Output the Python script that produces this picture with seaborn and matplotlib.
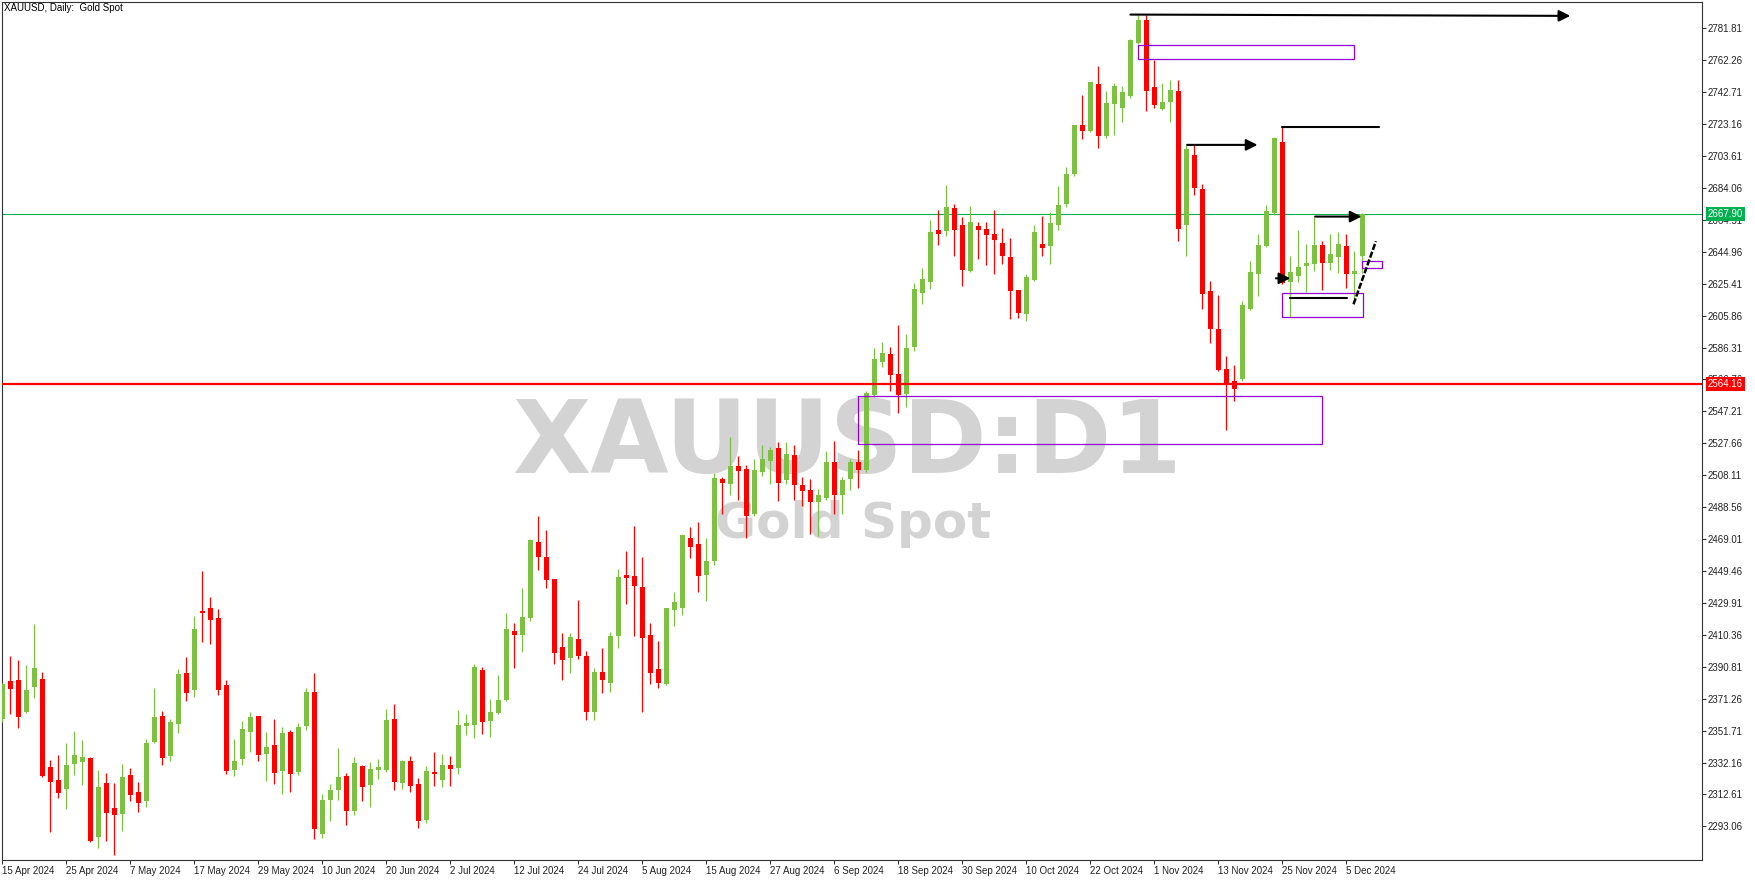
import numpy as np
import pandas as pd
import matplotlib
matplotlib.use("Agg")
import matplotlib.pyplot as plt
import matplotlib.transforms as mtransforms
from matplotlib.patches import Rectangle
import seaborn as sns

# daily candles, 15 Apr 2024 -> 9 Dec 2024
opens = [
    2359.0, 2382.1, 2382.7, 2363.3, 2378.6, 2383.3, 2329.4, 2321.5, 2316.2, 2331.5,
    2332.7, 2335.0, 2286.8, 2319.7, 2304.3, 2300.9, 2324.6, 2314.1, 2308.8, 2344.8,
    2360.7, 2336.4, 2356.0, 2387.0, 2376.8, 2425.0, 2426.8, 2420.7, 2379.6, 2327.8,
    2334.5, 2351.1, 2360.7, 2337.6, 2342.9, 2327.2, 2350.9, 2326.6, 2354.7, 2375.4,
    2288.6, 2309.4, 2315.6, 2323.9, 2302.8, 2330.1, 2318.7, 2327.8, 2327.8, 2358.9,
    2319.9, 2333.2, 2319.1, 2297.2, 2326.4, 2321.7, 2330.7, 2329.1, 2354.6, 2355.2,
    2388.9, 2357.6, 2362.5, 2370.5, 2412.7, 2410.3, 2420.7, 2467.2, 2458.0, 2444.6,
    2402.9, 2396.4, 2407.8, 2397.4, 2363.3, 2387.6, 2381.1, 2409.7, 2447.0, 2446.4,
    2439.7, 2410.3, 2389.5, 2380.5, 2425.6, 2426.8, 2469.7, 2466.0, 2447.0, 2455.6,
    2505.8, 2502.8, 2513.8, 2512.0, 2484.4, 2510.1, 2516.9, 2524.8, 2505.2, 2520.5,
    2502.2, 2499.1, 2491.8, 2494.2, 2516.3, 2496.1, 2505.8, 2516.3, 2511.4, 2557.3,
    2577.5, 2582.4, 2570.1, 2558.1, 2586.6, 2619.7, 2626.4, 2658.3, 2657.7, 2671.8,
    2661.4, 2633.2, 2660.7, 2658.9, 2655.8, 2650.3, 2641.8, 2621.6, 2606.9, 2627.7,
    2649.7, 2648.5, 2661.3, 2674.2, 2692.6, 2722.6, 2718.9, 2747.7, 2715.8, 2735.4,
    2733.0, 2740.3, 2772.8, 2786.9, 2745.8, 2732.4, 2736.7, 2743.4, 2661.3, 2704.2,
    2683.4, 2620.9, 2597.7, 2573.2, 2565.8, 2567.0, 2609.9, 2631.3, 2648.5, 2668.7,
    2712.1, 2626.4, 2630.1, 2636.2, 2637.4, 2649.1, 2638.1, 2641.7, 2648.5, 2631.3,
    2642.3,
]
highs = [
    2381.0, 2397.4, 2395.0, 2391.9, 2417.0, 2387.6, 2333.7, 2336.8, 2343.9, 2351.5,
    2346.0, 2335.6, 2327.6, 2325.8, 2319.7, 2331.3, 2328.8, 2320.3, 2346.6, 2377.8,
    2363.7, 2358.8, 2389.5, 2396.8, 2421.9, 2449.4, 2433.5, 2426.2, 2382.7, 2346.6,
    2357.6, 2363.1, 2360.7, 2350.9, 2358.8, 2353.9, 2352.1, 2356.4, 2377.8, 2387.0,
    2312.9, 2319.0, 2341.1, 2325.8, 2335.6, 2330.7, 2332.5, 2334.4, 2365.0, 2368.1,
    2333.8, 2336.2, 2322.8, 2330.1, 2338.7, 2337.4, 2336.2, 2364.4, 2361.9, 2392.5,
    2390.7, 2371.1, 2385.8, 2423.8, 2417.6, 2439.1, 2469.0, 2483.1, 2474.6, 2444.6,
    2411.5, 2411.5, 2431.7, 2400.5, 2390.1, 2402.3, 2412.1, 2450.7, 2461.7, 2477.0,
    2458.0, 2417.6, 2406.6, 2427.0, 2436.6, 2471.5, 2476.4, 2479.5, 2469.7, 2509.5,
    2507.0, 2531.6, 2519.9, 2514.4, 2518.1, 2526.7, 2525.4, 2528.5, 2528.5, 2526.7,
    2507.0, 2505.8, 2499.7, 2523.0, 2529.1, 2507.0, 2518.1, 2523.6, 2559.7, 2586.1,
    2589.7, 2586.7, 2600.1, 2594.6, 2625.8, 2635.0, 2664.4, 2670.5, 2685.8, 2674.2,
    2666.3, 2673.0, 2663.2, 2663.2, 2670.5, 2659.5, 2653.4, 2621.6, 2631.3, 2661.4,
    2666.9, 2669.3, 2685.2, 2696.9, 2722.6, 2740.9, 2749.0, 2758.7, 2743.4, 2748.3,
    2746.4, 2775.2, 2789.9, 2789.9, 2762.4, 2748.3, 2750.1, 2750.1, 2710.3, 2710.3,
    2686.4, 2627.1, 2618.5, 2581.1, 2575.6, 2614.8, 2639.3, 2655.8, 2673.6, 2715.2,
    2721.3, 2642.3, 2658.3, 2649.7, 2666.2, 2651.5, 2655.8, 2657.0, 2655.8, 2645.4,
    2668.7,
]
lows = [
    2357.0, 2362.1, 2353.5, 2362.7, 2371.9, 2323.5, 2289.9, 2310.7, 2303.9, 2324.8,
    2318.6, 2283.7, 2280.1, 2284.3, 2275.8, 2290.5, 2308.6, 2302.1, 2305.2, 2344.1,
    2330.9, 2333.3, 2350.5, 2370.1, 2372.5, 2406.2, 2405.0, 2373.5, 2325.4, 2324.1,
    2330.9, 2338.8, 2333.3, 2321.1, 2319.2, 2313.1, 2314.3, 2324.7, 2352.3, 2285.6,
    2286.2, 2296.6, 2309.4, 2294.1, 2300.3, 2308.9, 2305.2, 2322.3, 2326.6, 2315.6,
    2316.2, 2314.4, 2292.3, 2295.4, 2318.0, 2317.4, 2318.0, 2325.4, 2349.1, 2347.2,
    2349.7, 2347.8, 2361.9, 2369.9, 2390.1, 2399.9, 2418.8, 2450.1, 2439.0, 2392.7,
    2382.9, 2387.2, 2395.8, 2358.4, 2358.4, 2375.0, 2375.6, 2402.5, 2429.5, 2409.9,
    2363.3, 2380.5, 2378.0, 2379.9, 2415.8, 2422.5, 2457.4, 2436.6, 2431.1, 2453.0,
    2484.4, 2496.0, 2493.0, 2469.7, 2483.2, 2507.7, 2502.8, 2492.4, 2502.8, 2493.0,
    2489.3, 2472.2, 2471.0, 2493.0, 2484.4, 2484.4, 2499.1, 2500.3, 2510.1, 2556.1,
    2574.4, 2559.9, 2546.0, 2550.1, 2584.2, 2613.0, 2622.1, 2649.1, 2654.6, 2642.4,
    2624.0, 2632.6, 2640.5, 2636.8, 2631.3, 2637.5, 2603.8, 2604.4, 2602.6, 2627.1,
    2642.4, 2637.5, 2658.3, 2672.4, 2691.3, 2714.0, 2718.3, 2708.5, 2714.6, 2716.4,
    2724.4, 2739.1, 2772.2, 2731.1, 2733.0, 2731.8, 2724.4, 2651.5, 2642.4, 2679.7,
    2609.9, 2589.1, 2572.0, 2535.8, 2553.6, 2566.0, 2609.3, 2617.9, 2648.0, 2667.4,
    2625.0, 2605.0, 2626.4, 2620.3, 2633.2, 2621.5, 2633.8, 2631.9, 2622.8, 2614.8,
    2632.0,
]
closes = [
    2380.3, 2377.4, 2360.3, 2376.6, 2390.1, 2324.1, 2320.5, 2313.7, 2330.7, 2336.8,
    2335.6, 2284.3, 2317.2, 2301.5, 2300.3, 2323.3, 2312.5, 2307.6, 2344.1, 2360.1,
    2335.2, 2357.0, 2386.4, 2375.0, 2413.9, 2423.9, 2419.6, 2376.8, 2327.2, 2333.1,
    2352.7, 2360.1, 2337.0, 2341.7, 2326.0, 2350.3, 2325.4, 2353.9, 2375.4, 2291.7,
    2309.2, 2315.4, 2323.3, 2302.7, 2331.9, 2317.5, 2328.3, 2329.5, 2358.3, 2320.5,
    2333.2, 2318.0, 2296.6, 2327.0, 2325.2, 2330.7, 2328.4, 2355.2, 2356.4, 2390.7,
    2357.0, 2363.1, 2370.5, 2414.0, 2410.3, 2421.3, 2468.4, 2458.2, 2443.9, 2399.5,
    2395.2, 2409.0, 2397.6, 2363.3, 2387.6, 2382.7, 2409.7, 2445.8, 2445.2, 2440.5,
    2408.6, 2387.2, 2381.1, 2426.8, 2430.5, 2471.5, 2464.1, 2446.4, 2455.6, 2506.4,
    2503.4, 2513.8, 2510.7, 2483.2, 2511.4, 2518.1, 2523.6, 2503.4, 2521.2, 2502.2,
    2498.5, 2491.8, 2496.1, 2516.3, 2496.1, 2505.2, 2516.3, 2511.4, 2558.5, 2579.3,
    2583.0, 2569.7, 2557.4, 2586.0, 2622.1, 2628.3, 2657.0, 2655.8, 2672.3, 2658.3,
    2633.8, 2663.2, 2658.3, 2655.2, 2652.1, 2642.4, 2621.0, 2607.5, 2629.5, 2657.0,
    2647.3, 2662.6, 2673.6, 2692.6, 2722.6, 2718.9, 2748.9, 2715.8, 2736.0, 2746.4,
    2742.8, 2774.6, 2786.9, 2743.4, 2734.8, 2736.7, 2744.0, 2658.9, 2707.9, 2684.0,
    2619.1, 2597.7, 2572.6, 2564.4, 2560.9, 2612.3, 2632.5, 2649.1, 2669.9, 2714.6,
    2625.6, 2632.5, 2635.6, 2638.1, 2649.1, 2638.1, 2643.6, 2649.7, 2631.3, 2633.2,
    2667.9,
]

date_labels = [
    "15 Apr 2024", "25 Apr 2024", "7 May 2024", "17 May 2024", "29 May 2024",
    "10 Jun 2024", "20 Jun 2024", "2 Jul 2024", "12 Jul 2024", "24 Jul 2024",
    "5 Aug 2024", "15 Aug 2024", "27 Aug 2024", "6 Sep 2024", "18 Sep 2024",
    "30 Sep 2024", "10 Oct 2024", "22 Oct 2024", "1 Nov 2024", "13 Nov 2024",
    "25 Nov 2024", "5 Dec 2024",
]
date_label_bars = [0, 8, 16, 24, 32, 40, 48, 56, 64, 72, 80, 88, 96, 104, 112,
                   120, 128, 136, 144, 152, 160, 168]

price_ticks = [
    2293.06, 2312.61, 2332.16, 2351.71, 2371.26, 2390.81, 2410.36, 2429.91,
    2449.46, 2469.01, 2488.56, 2508.11, 2527.66, 2547.21, 2566.76, 2586.31,
    2605.86, 2625.41, 2644.96, 2664.51, 2684.06, 2703.61, 2723.16, 2742.71,
    2762.26, 2781.81,
]

bid_price = 2667.90
level_price = 2564.16

# drawn objects (bar index, price)
arrows = [
    ((141.0, 2790.2), (196.0, 2789.4)),
    ((148.1, 2710.4), (156.9, 2710.4)),
    ((164.1, 2666.5), (169.9, 2666.5)),
    ((159.2, 2628.7), (161.0, 2628.7)),
]
plain_lines = [
    ((160.0, 2721.6), (172.1, 2721.6)),
    ((161.0, 2616.9), (168.1, 2616.9)),
]
dashed_line = ((168.9, 2612.8), (171.7, 2651.4))
boxes = [  # x0, x1, y0, y1
    (142.0, 169.0, 2762.8, 2771.4),
    (107.0, 165.0, 2527.3, 2556.5),
    (160.0, 170.05, 2604.8, 2619.5),
    (170.0, 172.5, 2634.8, 2639.1),
]

UP = "#7dc142"
DOWN = "#ff0000"
PURPLE = "#9400d3"
GREEN_LINE = "#00b050"
FRAME = "#333333"

sns.set_theme(style="white")
plt.rcParams["font.family"] = ["Liberation Sans", "DejaVu Sans"]

df = pd.DataFrame({"open": opens, "high": highs, "low": lows, "close": closes})
df["bar"] = np.arange(len(df))
df["up"] = df["close"] >= df["open"]

W, H = 1755, 881
fig = plt.figure(figsize=(W / 100, H / 100), dpi=100, facecolor="white")
ax = fig.add_axes([2 / W, 21 / H, 1700 / W, 858 / H])
ax.set_facecolor("white")

# watermark
ax.text(847 / W, 1 - 473 / H, "XAUUSD:D1", transform=fig.transFigure,
        ha="center", va="baseline", fontsize=73, fontweight="bold",
        family="DejaVu Sans", color="#d3d3d3", zorder=0.5)
ax.text(853 / W, 1 - 538 / H, "Gold Spot", transform=fig.transFigure,
        ha="center", va="baseline", fontsize=36, fontweight="bold",
        family="DejaVu Sans", color="#d3d3d3", zorder=0.5)

# candles
for up, color in [(True, UP), (False, DOWN)]:
    d = df[df["up"] == up]
    ax.vlines(d["bar"], d["low"], d["high"], color=color, lw=0.9, zorder=3)
    body = (d["close"] - d["open"]).abs().clip(lower=1.0)
    bottom = d[["open", "close"]].min(axis=1)
    ax.bar(d["bar"], body, bottom=bottom, width=0.62, color=color,
           linewidth=0, zorder=4)

# price levels
ax.axhline(bid_price, color=GREEN_LINE, lw=0.8, zorder=2)
ax.axhline(level_price, color="#ff0000", lw=1.6, zorder=5)

# drawn objects
for (x0, x1, y0, y1) in boxes:
    ax.add_patch(Rectangle((x0, y0), x1 - x0, y1 - y0, fill=False,
                           edgecolor=PURPLE, lw=0.9, zorder=6))
for start, end in arrows:
    ax.annotate("", xy=end, xytext=start,
                arrowprops=dict(arrowstyle="-|>", color="black", lw=1.5,
                                mutation_scale=17, shrinkA=0, shrinkB=0),
                zorder=7)
for (xa, ya), (xb, yb) in plain_lines:
    ax.plot([xa, xb], [ya, yb], color="black", lw=1.5, zorder=7)
(xa, ya), (xb, yb) = dashed_line
ax.plot([xa, xb], [ya, yb], color="black", lw=1.8, ls=(0, (2.5, 0.8)), zorder=7)

# axes
ax.set_xlim(-0.04, 212.46)
ax.set_ylim(2272.5, 2797.9)
ax.set_yticks(price_ticks)
ax.set_yticklabels([f"{p:.2f}" for p in price_ticks])
ax.set_xticks(date_label_bars, labels=date_labels, ha="left")
ax.yaxis.tick_right()
ax.tick_params(axis="y", which="both", left=False, right=True, labelleft=False,
               labelright=True, length=3, width=0.8, color=FRAME, labelsize=7,
               labelcolor="#222222", pad=1)
ax.tick_params(axis="x", bottom=True, length=3, width=0.8, color=FRAME,
               labelsize=7, labelcolor="#222222", pad=1)
ax.grid(False)
for sp in ax.spines.values():
    sp.set_visible(True)
    sp.set_color(FRAME)
    sp.set_linewidth(0.8)

# price label boxes on the right scale
trans = mtransforms.blended_transform_factory(ax.transAxes, ax.transData)
ax.text(1.0035, bid_price, f"{bid_price:.2f}", transform=trans, ha="left",
        va="center", fontsize=7, color="white", clip_on=False, zorder=10,
        bbox=dict(boxstyle="square,pad=0.2", fc=GREEN_LINE, ec="none"))
ax.text(1.0035, level_price, f"{level_price:.2f}", transform=trans, ha="left",
        va="center", fontsize=7, color="white", clip_on=False, zorder=10,
        bbox=dict(boxstyle="square,pad=0.2", fc="#ff0000", ec="none"))

fig.text(4 / W, 1 - 8 / H, "XAUUSD, Daily:  Gold Spot", ha="left", va="center",
         fontsize=7, color="black")

fig.savefig("out.png", dpi=100, facecolor="white")
